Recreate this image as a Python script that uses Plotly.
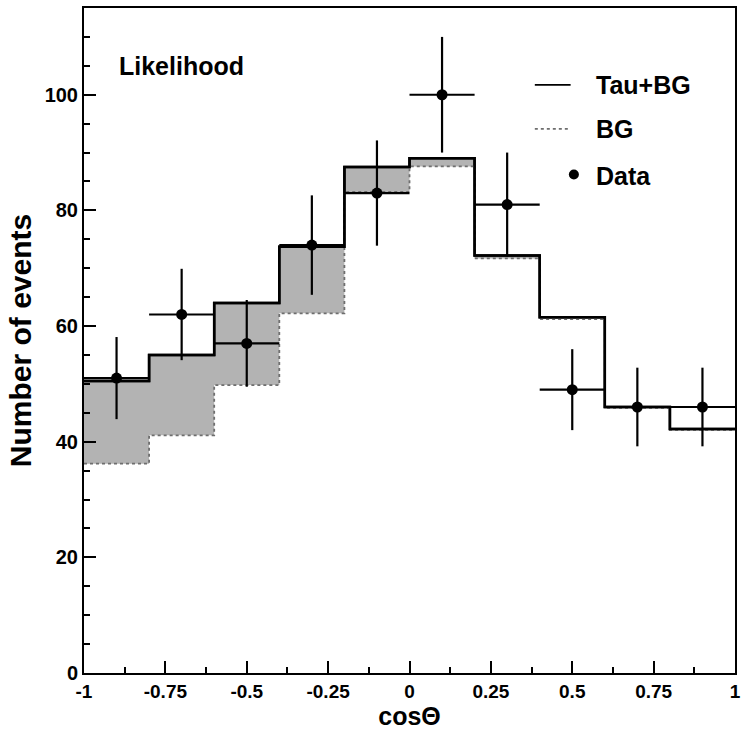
import plotly.graph_objects as go

# ---- data ----
bin_edges = [-1.0, -0.8, -0.6, -0.4, -0.2, 0.0, 0.2, 0.4, 0.6, 0.8, 1.0]
tau_bg = [50.5, 55.0, 64.0, 73.7, 87.5, 89.0, 72.2, 61.5, 46.0, 42.2]
bg = [36.2, 41.1, 49.8, 62.2, 83.2, 87.6, 71.7, 61.2, 45.8, 42.0]
data_x = [-0.9, -0.7, -0.5, -0.3, -0.1, 0.1, 0.3, 0.5, 0.7, 0.9]
data_y = [51, 62, 57, 74, 83, 100, 81, 49, 46, 46]
data_err = [7.1, 7.9, 7.5, 8.6, 9.1, 10.0, 9.0, 7.0, 6.8, 6.8]
x_half_width = [0.1] * 10

x_tickvals = [-1, -0.75, -0.5, -0.25, 0, 0.25, 0.5, 0.75, 1]
x_ticktext = ["-1", "-0.75", "-0.5", "-0.25", "0", "0.25", "0.5", "0.75", "1"]
y_tickvals = [0, 20, 40, 60, 80, 100]
y_ticktext = ["0", "20", "40", "60", "80", "100"]

FONT = "Liberation Sans, Arial, Helvetica, sans-serif"

# step arrays (hv shape: last value repeated at the right edge)
tau_steps = tau_bg + [tau_bg[-1]]
bg_steps = bg + [bg[-1]]

fig = go.Figure()

fig.add_trace(go.Scatter(
    x=bin_edges, y=tau_steps, mode="lines", line_shape="hv",
    line=dict(color="black", width=2.5), name="Tau+BG", showlegend=False,
))
fig.add_trace(go.Scatter(
    x=bin_edges, y=bg_steps, mode="lines", line_shape="hv",
    line=dict(color="#6e6e6e", width=1.8, dash="dot"),
    fill="tonexty", fillcolor="#b3b3b3", name="BG", showlegend=False,
))
# redraw the Tau+BG line on top of the fill
fig.add_trace(go.Scatter(
    x=bin_edges, y=tau_steps, mode="lines", line_shape="hv",
    line=dict(color="black", width=2.5), showlegend=False, hoverinfo="skip",
))
fig.add_trace(go.Scatter(
    x=data_x, y=data_y, mode="markers",
    marker=dict(color="black", size=11),
    error_x=dict(type="data", array=x_half_width, color="black", thickness=2.2, width=0),
    error_y=dict(type="data", array=data_err, color="black", thickness=2.2, width=0),
    name="Data", showlegend=False,
))

# ---- manual legend ----
fig.add_shape(type="line", xref="x", yref="y", x0=0.385, x1=0.495, y0=101.7, y1=101.7,
              line=dict(color="black", width=1.8))
fig.add_shape(type="line", xref="x", yref="y", x0=0.385, x1=0.495, y0=94.1, y1=94.1,
              line=dict(color="#6e6e6e", width=1.8, dash="dot"))
fig.add_trace(go.Scatter(x=[0.505], y=[86.2], mode="markers",
                         marker=dict(color="black", size=10), showlegend=False, hoverinfo="skip"))
for label, yy in [("Tau+BG", 101.7), ("BG", 94.1), ("Data", 85.9)]:
    fig.add_annotation(x=0.568, y=yy, xref="x", yref="y", text=label, showarrow=False,
                       xanchor="left", yanchor="middle",
                       font=dict(family=FONT, size=25, color="black", weight="bold"))

fig.add_annotation(x=-0.898, y=105.0, xref="x", yref="y", text="Likelihood", showarrow=False,
                   xanchor="left", yanchor="middle",
                   font=dict(family=FONT, size=25, color="black", weight="bold"))

fig.update_layout(
    width=742, height=730,
    margin=dict(l=84, r=7, t=8, b=57),
    paper_bgcolor="white", plot_bgcolor="white",
    font=dict(family=FONT, color="black"),
    showlegend=False,
)
fig.update_xaxes(
    range=[-1, 1], tickvals=x_tickvals, ticktext=x_ticktext,
    automargin=False, ticklabeloverflow="allow",
    ticks="inside", ticklen=12, tickwidth=2, tickcolor="black",
    minor=dict(dtick=0.125, tick0=0, ticks="inside", ticklen=6, tickwidth=2, tickcolor="black"),
    showline=True, linecolor="black", linewidth=2, mirror=True,
    showgrid=False, zeroline=False,
    tickfont=dict(family=FONT, size=19, color="black", weight="bold"),
    title=dict(text="cosΘ", font=dict(family=FONT, size=25, color="black", weight="bold"), standoff=10),
)
fig.update_yaxes(
    range=[0, 115], tickvals=y_tickvals, ticktext=y_ticktext,
    automargin=False, ticklabeloverflow="allow",
    ticks="inside", ticklen=12, tickwidth=2, tickcolor="black",
    minor=dict(dtick=5, tick0=0, ticks="inside", ticklen=6, tickwidth=2, tickcolor="black"),
    showline=True, linecolor="black", linewidth=2, mirror=True,
    showgrid=False, zeroline=False,
    tickfont=dict(family=FONT, size=20, color="black", weight="bold"),
    title=dict(text="Number of events", font=dict(family=FONT, size=30, color="black", weight="bold"), standoff=4),
)

fig.write_html("out.html")
